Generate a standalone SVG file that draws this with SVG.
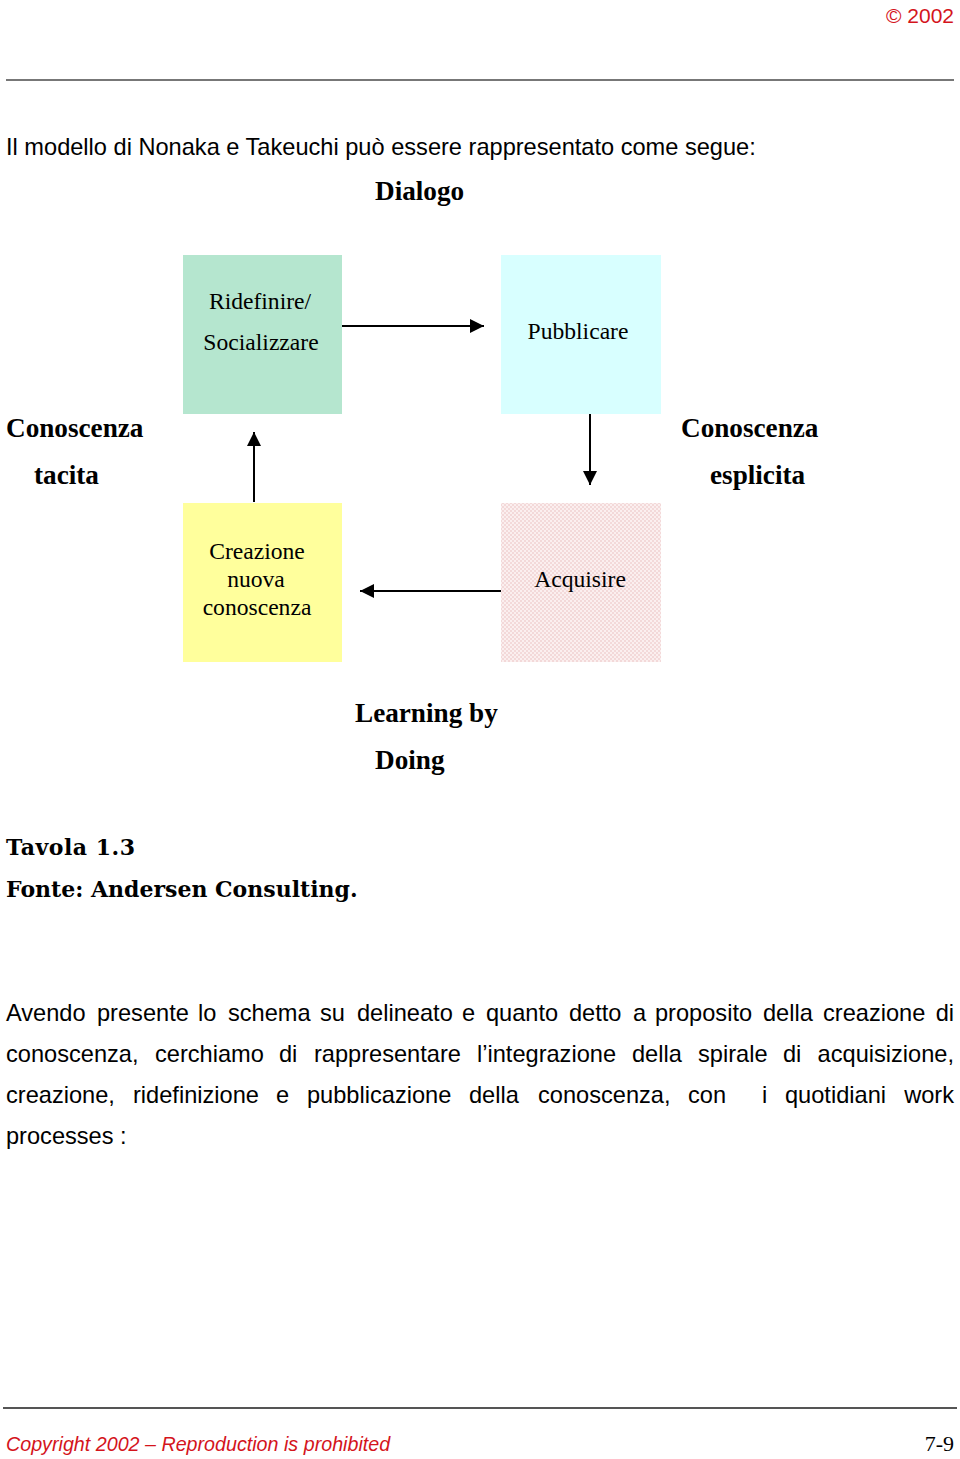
<svg xmlns="http://www.w3.org/2000/svg" width="960" height="1459" viewBox="0 0 960 1459">
<style>
.sans{font-family:"Liberation Sans",Arial,sans-serif;fill:#000}
.ser{font-family:"Liberation Serif","Times New Roman",serif;fill:#000}
.red{fill:#d4141c}
.box{font-size:23.6px;text-anchor:middle}
.lbl{font-size:27.2px;font-weight:bold}
.slab{font-family:"DejaVu Serif",serif;font-weight:bold;font-size:22px;fill:#000}
.par{font-size:23.6px}
.conn line{stroke:#000;stroke-width:2}
</style>
<defs>
<marker id="ah" viewBox="0 0 10 10" refX="10" refY="5" markerWidth="14" markerHeight="14" markerUnits="userSpaceOnUse" orient="auto">
<path d="M0,0 L10,5 L0,10 z" fill="#000"/>
</marker>
<pattern id="chk" width="4" height="4" patternUnits="userSpaceOnUse">
<rect width="4" height="4" fill="#fbefef"/>
<rect width="2" height="2" fill="#f3d9d9"/>
<rect x="2" y="2" width="2" height="2" fill="#f3d9d9"/>
</pattern>
</defs>
<rect width="960" height="1459" fill="#fff"/>

<g id="header">
<text class="sans red" x="954" y="23" font-size="21" text-anchor="end">© 2002</text>
<line x1="6" y1="80" x2="954" y2="80" stroke="#777" stroke-width="2"/>
</g>

<text class="sans" x="6" y="155" font-size="23.6">Il modello di Nonaka e Takeuchi può essere rappresentato come segue:</text>
<text class="ser lbl" x="375" y="200">Dialogo</text>

<g id="node-ridefinire">
<rect x="183" y="255" width="159" height="159" fill="#b5e6cf"/>
<text class="ser box" x="260" y="309">Ridefinire/</text>
<text class="ser box" x="261" y="350">Socializzare</text>
</g>
<g id="node-pubblicare">
<rect x="501" y="255" width="160" height="159" fill="#d8ffff"/>
<text class="ser box" x="578" y="339">Pubblicare</text>
</g>
<g id="node-creazione">
<rect x="183" y="503" width="159" height="159" fill="#ffff9c"/>
<text class="ser box" x="257" y="559">Creazione</text>
<text class="ser box" x="256" y="587">nuova</text>
<text class="ser box" x="257" y="615">conoscenza</text>
</g>
<g id="node-acquisire">
<rect x="501" y="503" width="160" height="159" fill="url(#chk)"/>
<text class="ser box" x="580" y="587">Acquisire</text>
</g>

<g id="connectors" class="conn">
<line x1="342" y1="326" x2="484" y2="326" marker-end="url(#ah)"/>
<line x1="590" y1="414" x2="590" y2="485" marker-end="url(#ah)"/>
<line x1="501" y1="591" x2="360" y2="591" marker-end="url(#ah)"/>
<line x1="254" y1="502" x2="254" y2="432" marker-end="url(#ah)"/>
</g>

<g id="labels">
<text class="ser lbl" x="6" y="437">Conoscenza</text>
<text class="ser lbl" x="34" y="484">tacita</text>
<text class="ser lbl" x="681" y="437">Conoscenza</text>
<text class="ser lbl" x="710" y="484">esplicita</text>
<text class="ser lbl" x="355" y="722">Learning by</text>
<text class="ser lbl" x="375" y="769">Doing</text>
</g>

<text class="slab" x="6" y="855" letter-spacing="0.5">Tavola 1.3</text>
<text class="slab" x="6" y="897">Fonte: Andersen Consulting.</text>

<g id="paragraph" class="sans par">
<text y="1021"><tspan x="6">Avendo</tspan><tspan x="97">presente</tspan><tspan x="198">lo</tspan><tspan x="228">schema</tspan><tspan x="320">su</tspan><tspan x="357">delineato</tspan><tspan x="462">e</tspan><tspan x="486">quanto</tspan><tspan x="569">detto</tspan><tspan x="633">a</tspan><tspan x="655">proposito</tspan><tspan x="763">della</tspan><tspan x="823">creazione</tspan><tspan x="954" text-anchor="end">di</tspan></text>
<text y="1062"><tspan x="6">conoscenza,</tspan><tspan x="155">cerchiamo</tspan><tspan x="279">di</tspan><tspan x="314">rappresentare</tspan><tspan x="477">l’integrazione</tspan><tspan x="632">della</tspan><tspan x="698">spirale</tspan><tspan x="783">di</tspan><tspan x="954" text-anchor="end">acquisizione,</tspan></text>
<text y="1103"><tspan x="6">creazione,</tspan><tspan x="133">ridefinizione</tspan><tspan x="276">e</tspan><tspan x="307">pubblicazione</tspan><tspan x="469">della</tspan><tspan x="538">conoscenza,</tspan><tspan x="688">con</tspan><tspan x="762">i</tspan><tspan x="785">quotidiani</tspan><tspan x="954" text-anchor="end">work</tspan></text>
<text y="1144" x="6">processes :</text>
</g>

<g id="footer">
<line x1="3" y1="1408" x2="957" y2="1408" stroke="#555" stroke-width="2"/>
<text class="sans red" x="6" y="1451" font-size="19.7" font-style="italic">Copyright 2002 – Reproduction is prohibited</text>
<text class="ser" x="954" y="1451" font-size="22" text-anchor="end">7-9</text>
</g>
</svg>
